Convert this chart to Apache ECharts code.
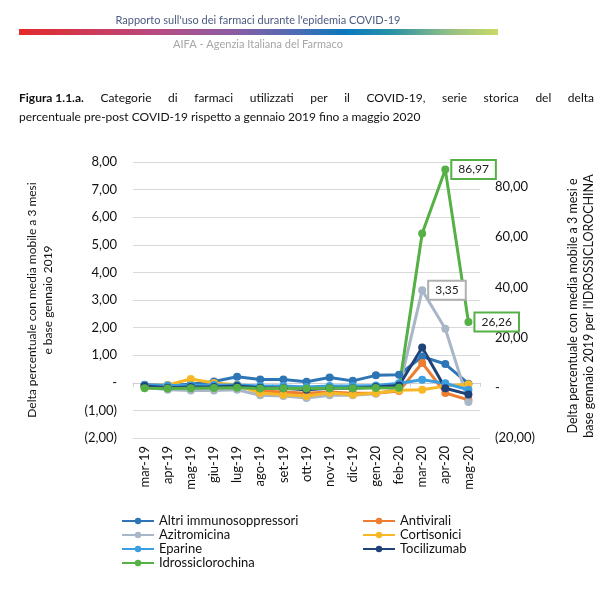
<!DOCTYPE html>
<html><head><meta charset="utf-8">
<script src="https://cdn.jsdelivr.net/npm/echarts@6/dist/echarts.min.js"></script>
<style>html,body{margin:0;padding:0;background:#fff}#c{width:614px;height:599px}</style>
</head><body><div id="c"></div>
<script>
const categories = ['mar-19','apr-19','mag-19','giu-19','lug-19','ago-19','set-19','ott-19','nov-19','dic-19','gen-20','feb-20','mar-20','apr-20','mag-20'];
const altriImmuno = [-0.07,-0.10,-0.05,0.05,0.22,0.12,0.12,0.04,0.19,0.07,0.27,0.29,0.95,0.68,-0.03];
const antivirali = [-0.12,-0.15,-0.15,-0.12,-0.12,-0.30,-0.33,-0.38,-0.33,-0.38,-0.38,-0.30,0.72,-0.37,-0.62];
const azitromicina = [-0.15,-0.25,-0.28,-0.28,-0.25,-0.45,-0.48,-0.55,-0.45,-0.45,-0.40,-0.20,3.35,1.96,-0.70];
const cortisonici = [-0.10,-0.08,0.14,-0.01,-0.07,-0.37,-0.43,-0.48,-0.37,-0.43,-0.37,-0.27,-0.25,-0.12,-0.05];
const eparine = [-0.08,-0.10,-0.10,-0.08,-0.08,-0.12,-0.12,-0.15,-0.12,-0.12,-0.10,-0.02,0.11,-0.02,-0.25];
const tocilizumab = [-0.12,-0.18,-0.15,-0.15,-0.12,-0.18,-0.20,-0.25,-0.20,-0.20,-0.15,-0.10,1.28,-0.20,-0.42];
const idrossiclorochina = [-0.2,-0.3,-0.2,-0.1,0.0,-0.3,-0.2,-0.3,-0.2,-0.2,-0.1,0.0,61.5,86.97,26.26];
const leftTicks = {min:-2, max:8, interval:1};
const rightTicks = {min:-20, max:90, interval:20};

const FONT = 'Lato, "Open Sans", sans-serif';
const fmt = v => Math.abs(v).toFixed(2).replace('.', ',');
const axisFmt = v => v === 0 ? '-' : (v < 0 ? '(' + fmt(v) + ')' : fmt(v));

function mk(name, vals, color, yIdx, labelIdx, labelColor) {
  return {
    name, type: 'line', yAxisIndex: yIdx, xAxisIndex: 0,
    symbol: 'circle', symbolSize: 8,
    lineStyle: {width: 3, color}, itemStyle: {color},
    data: vals.map((v, i) => {
      if (labelIdx.indexOf(i) >= 0) {
        return {value: v, label: {show: true, position: 'right', distance: 3,
          formatter: p => fmt(p.value), color: '#222', fontSize: 12, fontFamily: FONT,
          backgroundColor: '#fff', borderColor: labelColor, borderWidth: 2,
          padding: [3, 6, 2, 6]}};
      }
      return v;
    }),
    z: 3
  };
}

const chart = echarts.init(document.getElementById('c'), null, {renderer: 'canvas'});

const ctx = document.createElement('canvas').getContext('2d');
const capSize = 12;
const line1Words = [['Figura 1.1.a.', true], ['Categorie', false], ['di', false], ['farmaci', false], ['utilizzati', false], ['per', false], ['il', false], ['COVID-19,', false], ['serie', false], ['storica', false], ['del', false], ['delta', false]];
const capLeft = 19, capRight = 594;
let widths = line1Words.map(([w, b]) => { ctx.font = (b ? 'bold ' : '') + capSize + 'px ' + FONT; return ctx.measureText(w).width; });
const total = widths.reduce((a, b) => a + b, 0);
const gap = (capRight - capLeft - total) / (line1Words.length - 1);
const graphics = [];
let cx = capLeft;
line1Words.forEach(([w, b], i) => {
  graphics.push({type: 'text', x: cx, y: 98, style: {text: w, font: (b ? 'bold ' : '') + capSize + 'px ' + FONT, fill: '#111', textVerticalAlign: 'middle', textAlign: 'left'}});
  cx += widths[i] + gap;
});
graphics.push({type: 'text', x: capLeft, y: 117, style: {text: 'percentuale pre-post COVID-19 rispetto a gennaio 2019 fino a maggio 2020', font: capSize + 'px ' + FONT, fill: '#111', textVerticalAlign: 'middle'}});
graphics.push({type: 'text', x: 258, y: 20, style: {text: "Rapporto sull'uso dei farmaci durante l'epidemia COVID-19", font: '11px ' + FONT, fill: '#4b5a80', textAlign: 'center', textVerticalAlign: 'middle'}});
graphics.push({type: 'rect', shape: {x: 19, y: 29, width: 479, height: 6}, style: {fill: new echarts.graphic.LinearGradient(0, 0, 1, 0, [
  {offset: 0, color: '#e42a2a'}, {offset: 0.28, color: '#b84a80'}, {offset: 0.45, color: '#8a5ca4'},
  {offset: 0.58, color: '#4b6cb4'}, {offset: 0.68, color: '#0a78be'}, {offset: 0.78, color: '#2a92a6'},
  {offset: 0.9, color: '#95c084'}, {offset: 1, color: '#c8dc64'}])}});
graphics.push({type: 'text', x: 258, y: 44, style: {text: 'AIFA - Agenzia Italiana del Farmaco', font: '11px ' + FONT, fill: '#a6a6a6', textAlign: 'center', textVerticalAlign: 'middle'}});
graphics.push({type: 'text', x: 40, y: 300, rotation: Math.PI / 2, style: {text: 'Delta percentuale con media mobile a 3 mesi\ne base gennaio 2019', font: '12px ' + FONT, fill: '#111', textAlign: 'center', textVerticalAlign: 'middle', lineHeight: 16}});
graphics.push({type: 'text', x: 581, y: 306, rotation: Math.PI / 2, style: {text: "Delta percentuale con media mobile a 3 mesi e\nbase gennaio 2019 per l'IDROSSICLOROCHINA", font: '12.5px ' + FONT, fill: '#111', textAlign: 'center', textVerticalAlign: 'middle', lineHeight: 16}});

const legendCommon = {orient: 'vertical', itemWidth: 32, itemHeight: 8, itemGap: 0, padding: 0,
  textStyle: {fontSize: 13, fontFamily: FONT, color: '#111', lineHeight: 14},
  selectedMode: false};

chart.setOption({
  animation: false,
  backgroundColor: '#fff',
  grid: {left: 133, right: 134, top: 162, bottom: 161, containLabel: false, outerBoundsMode: 'none'},
  legend: [
    Object.assign({left: 121, top: 514, data: ['Altri immunosoppressori', 'Azitromicina', 'Eparine', 'Idrossiclorochina']}, legendCommon),
    Object.assign({left: 362, top: 514, data: ['Antivirali', 'Cortisonici', 'Tocilizumab']}, legendCommon)
  ],
  xAxis: [
    {type: 'category', data: categories, boundaryGap: true, position: 'bottom',
      axisLine: {show: false, onZero: false}, axisTick: {show: false},
      axisLabel: {rotate: 90, fontSize: 13, fontFamily: FONT, color: '#111', margin: 8, interval: 0}},
    {type: 'category', data: categories, boundaryGap: true, position: 'bottom',
      axisLine: {show: true, onZero: true, onZeroAxisIndex: 0, lineStyle: {color: '#d0d0d0', width: 1}},
      axisTick: {show: true, length: 4, lineStyle: {color: '#d0d0d0'}}, axisLabel: {show: false}}
  ],
  yAxis: [
    {type: 'value', min: leftTicks.min, max: leftTicks.max, interval: leftTicks.interval, position: 'left',
      axisLine: {show: false}, axisTick: {show: false},
      splitLine: {lineStyle: {color: '#d9d9d9', width: 1}},
      axisLabel: {formatter: axisFmt, fontSize: 13, fontFamily: FONT, color: '#111', margin: 16}},
    {type: 'value', min: rightTicks.min, max: rightTicks.max, interval: rightTicks.interval, position: 'right',
      axisLine: {show: false}, axisTick: {show: false}, splitLine: {show: false},
      axisLabel: {formatter: v => (v > 80 ? '' : axisFmt(v)), fontSize: 13, fontFamily: FONT, color: '#111', margin: 15}}
  ],
  series: [
    mk('Altri immunosoppressori', altriImmuno, '#2e75b6', 0, [], null),
    mk('Antivirali', antivirali, '#ed7d31', 0, [], null),
    mk('Azitromicina', azitromicina, '#a9b6c8', 0, [12], '#b0b0b0'),
    mk('Cortisonici', cortisonici, '#f8b826', 0, [], null),
    mk('Eparine', eparine, '#3a9ee0', 0, [], null),
    mk('Tocilizumab', tocilizumab, '#1f4279', 0, [], null),
    mk('Idrossiclorochina', idrossiclorochina, '#55b045', 1, [13, 14], '#55b045')
  ],
  graphic: graphics
});
</script></body></html>
